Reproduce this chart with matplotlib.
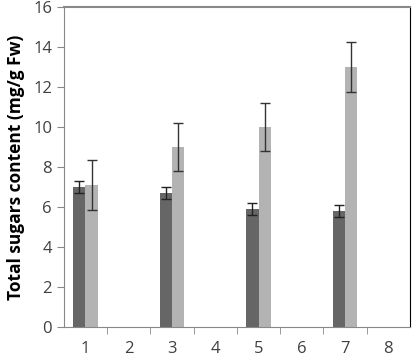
import matplotlib.pyplot as plt
import numpy as np

categories = [1, 2, 3, 4, 5, 6, 7, 8]
bar_positions = [1, 3, 5, 7]
dark_values = [7.0, 6.7, 5.9, 5.8]
dark_errors = [0.3, 0.3, 0.3, 0.3]
light_values = [7.1, 9.0, 10.0, 13.0]
light_errors = [1.23, 1.2, 1.2, 1.25]

plt.rcParams['font.family'] = ['Open Sans', 'DejaVu Sans']

fig = plt.figure(figsize=(4.12, 3.58), dpi=100)
ax = fig.add_axes([0.155, 0.087, 0.840, 0.893])

x = np.array(bar_positions, dtype=float)
w = 0.28
ax.bar(x - w / 2, dark_values, w, color='#666666', yerr=dark_errors,
       error_kw=dict(ecolor='#222222', elinewidth=1, capsize=3.5, capthick=1))
ax.bar(x + w / 2, light_values, w, color='#b3b3b3', yerr=light_errors,
       error_kw=dict(ecolor='#333333', elinewidth=1, capsize=3.5, capthick=1))

ax.set_xlim(0.5, 8.5)
ax.set_ylim(0, 16)
ax.set_yticks(np.arange(0, 17, 2))
ax.set_xticks(categories)
ax.set_xticks(np.arange(1.5, 8.5, 1), minor=True)
ax.tick_params(axis='x', which='major', length=0, pad=10, labelsize=12, labelcolor='#404040')
ax.tick_params(axis='x', which='minor', length=5, color='#888888', direction='out')
ax.tick_params(axis='y', length=5, color='#888888', labelsize=12, labelcolor='#404040')

for side in ['left', 'bottom', 'top']:
    ax.spines[side].set_color('#888888')
ax.spines['top'].set_linewidth(1.5)
ax.spines['right'].set_color('#000000')

ax.set_ylabel('Total sugars content (mg/g Fw)', fontsize=12.5, fontweight='bold', labelpad=6)

fig.savefig('out.png', dpi=100)
